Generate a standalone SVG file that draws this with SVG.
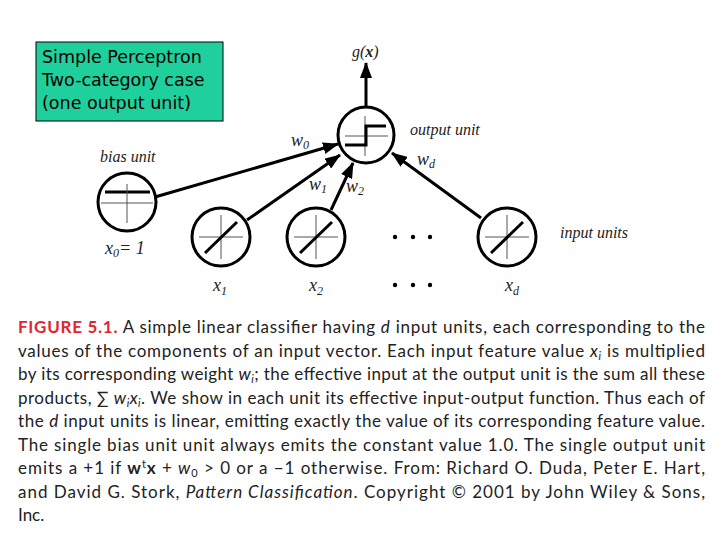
<svg xmlns="http://www.w3.org/2000/svg" width="720" height="540" viewBox="0 0 720 540">
<style>
.unit{fill:#fff;stroke:#000;stroke-width:3}
.thin{stroke:#555;stroke-width:1;fill:none}
.thick{stroke:#000;stroke-width:3;fill:none}
.conn{stroke:#000;stroke-width:3;fill:none}
.lab{font-family:"Liberation Serif",serif;font-style:italic;font-size:16px;fill:#222}
.var{font-family:"Liberation Serif",serif;font-style:italic;font-size:18px;fill:#222}
.sub{font-size:12px}
.box{font-family:"DejaVu Sans",Verdana,sans-serif;font-size:17.5px;fill:#000}
.cap{font-family:Lato,"Open Sans",sans-serif;font-size:17px;fill:#222}
.red{fill:#e3262e;font-weight:bold}
.it{font-style:italic}
</style>
<defs>
<marker id="ah" markerUnits="userSpaceOnUse" markerWidth="16" markerHeight="12" refX="15" refY="6" orient="auto">
<path d="M0,0 L16,6 L0,12 Z" fill="#000"/>
</marker>
</defs>
<rect width="720" height="540" fill="#fff"/>

<g id="title">
<rect x="36" y="42" width="187" height="79" fill="#20d09c" stroke="#000" stroke-width="1"/>
<text class="box" x="42" y="63">Simple Perceptron</text>
<text class="box" x="42" y="86">Two-category case</text>
<text class="box" x="42" y="109">(one output unit)</text>
</g>

<g id="connectors">
<line class="conn" x1="366" y1="107" x2="366" y2="63" marker-end="url(#ah)"/>
<line class="conn" x1="155" y1="197" x2="338" y2="144" marker-end="url(#ah)"/>
<line class="conn" x1="247" y1="220" x2="340" y2="155" marker-end="url(#ah)"/>
<line class="conn" x1="331" y1="210" x2="353" y2="163" marker-end="url(#ah)"/>
<line class="conn" x1="481" y1="218" x2="392" y2="153" marker-end="url(#ah)"/>
</g>

<g id="output-unit">
<circle class="unit" cx="366" cy="135" r="28"/>
<line class="thin" x1="345" y1="136" x2="388" y2="136"/>
<line class="thin" x1="365" y1="116" x2="365" y2="156"/>
<polyline class="thick" points="345,145 366,145 366,126 386,126"/>
<text class="lab" x="352" y="57">g(<tspan font-weight="bold">x</tspan>)</text>
<text class="lab" x="410" y="135">output unit</text>
</g>

<g id="bias-unit">
<circle class="unit" cx="127" cy="202" r="29"/>
<line class="thick" x1="105" y1="192" x2="150" y2="192"/>
<line class="thin" x1="101" y1="203" x2="153" y2="203"/>
<line class="thin" x1="127" y1="184" x2="127" y2="223"/>
<text class="lab" x="100" y="162">bias unit</text>
<text class="var" x="105" y="254">x<tspan class="sub" dy="3">0</tspan><tspan dy="-3">= 1</tspan></text>
</g>

<g id="input-x1">
<circle class="unit" cx="221" cy="237" r="29"/>
<line class="thin" x1="199" y1="237" x2="243" y2="237"/>
<line class="thin" x1="221" y1="215" x2="221" y2="259"/>
<line class="thick" x1="205" y1="253" x2="237" y2="222"/>
<text class="var" x="213" y="291">x<tspan class="sub" dy="4">1</tspan></text>
</g>

<g id="input-x2">
<circle class="unit" cx="316" cy="237" r="29"/>
<line class="thin" x1="294" y1="237" x2="338" y2="237"/>
<line class="thin" x1="316" y1="215" x2="316" y2="259"/>
<line class="thick" x1="300" y1="253" x2="332" y2="222"/>
<text class="var" x="309" y="291">x<tspan class="sub" dy="4">2</tspan></text>
</g>

<g id="input-xd">
<circle class="unit" cx="507" cy="237" r="29"/>
<line class="thin" x1="485" y1="237" x2="529" y2="237"/>
<line class="thin" x1="507" y1="215" x2="507" y2="259"/>
<line class="thick" x1="491" y1="253" x2="523" y2="222"/>
<text class="var" x="505" y="291">x<tspan class="sub" dy="4">d</tspan></text>
</g>

<g id="dots" fill="#000">
<circle cx="395" cy="237" r="2.2"/><circle cx="413" cy="237" r="2.2"/><circle cx="430" cy="237" r="2.2"/>
<circle cx="395" cy="285" r="2.2"/><circle cx="413" cy="285" r="2.2"/><circle cx="430" cy="285" r="2.2"/>
</g>

<g id="weights">
<text class="var" x="291" y="146">w<tspan class="sub" dy="3">0</tspan></text>
<text class="var" x="309" y="190">w<tspan class="sub" dy="3">1</tspan></text>
<text class="var" x="346" y="192">w<tspan class="sub" dy="3">2</tspan></text>
<text class="var" x="417" y="165">w<tspan class="sub" dy="3">d</tspan></text>
<text class="lab" x="560" y="238">input units</text>
</g>

<g id="caption">
<text class="cap" x="18" y="333" textLength="687" lengthAdjust="spacing"><tspan class="red">FIGURE 5.1.</tspan> A simple linear classifier having <tspan class="it">d</tspan> input units, each corresponding to the</text>
<text class="cap" x="18" y="356.5" textLength="687" lengthAdjust="spacing">values of the components of an input vector. Each input feature value <tspan class="it">x</tspan><tspan class="it" font-size="11" dy="3">i</tspan><tspan dy="-3"> is multiplied</tspan></text>
<text class="cap" x="18" y="380" textLength="687" lengthAdjust="spacing">by its corresponding weight <tspan class="it">w</tspan><tspan class="it" font-size="11" dy="3">i</tspan><tspan dy="-3">; the effective input at the output unit is the sum all these</tspan></text>
<text class="cap" x="18" y="403.5" textLength="687" lengthAdjust="spacing">products, ∑ <tspan class="it">w</tspan><tspan class="it" font-size="11" dy="3">i</tspan><tspan class="it" dy="-3">x</tspan><tspan class="it" font-size="11" dy="3">i</tspan><tspan dy="-3">. We show in each unit its effective input-output function. Thus each of</tspan></text>
<text class="cap" x="18" y="427" textLength="687" lengthAdjust="spacing">the <tspan class="it">d</tspan> input units is linear, emitting exactly the value of its corresponding feature value.</text>
<text class="cap" x="18" y="450.5" textLength="687" lengthAdjust="spacing">The single bias unit unit always emits the constant value 1.0. The single output unit</text>
<text class="cap" x="18" y="474" textLength="687" lengthAdjust="spacing">emits a +1 if <tspan font-weight="bold">w</tspan><tspan font-size="11" dy="-6">t</tspan><tspan font-weight="bold" dy="6">x</tspan> + <tspan class="it">w</tspan><tspan font-size="11" dy="3">0</tspan><tspan dy="-3"> &gt; 0 or a −1 otherwise. From: Richard O. Duda, Peter E. Hart,</tspan></text>
<text class="cap" x="18" y="497.5" textLength="687" lengthAdjust="spacing">and David G. Stork, <tspan class="it">Pattern Classification</tspan>. Copyright © 2001 by John Wiley &amp; Sons,</text>
<text class="cap" x="18" y="521">Inc.</text>
</g>
</svg>
